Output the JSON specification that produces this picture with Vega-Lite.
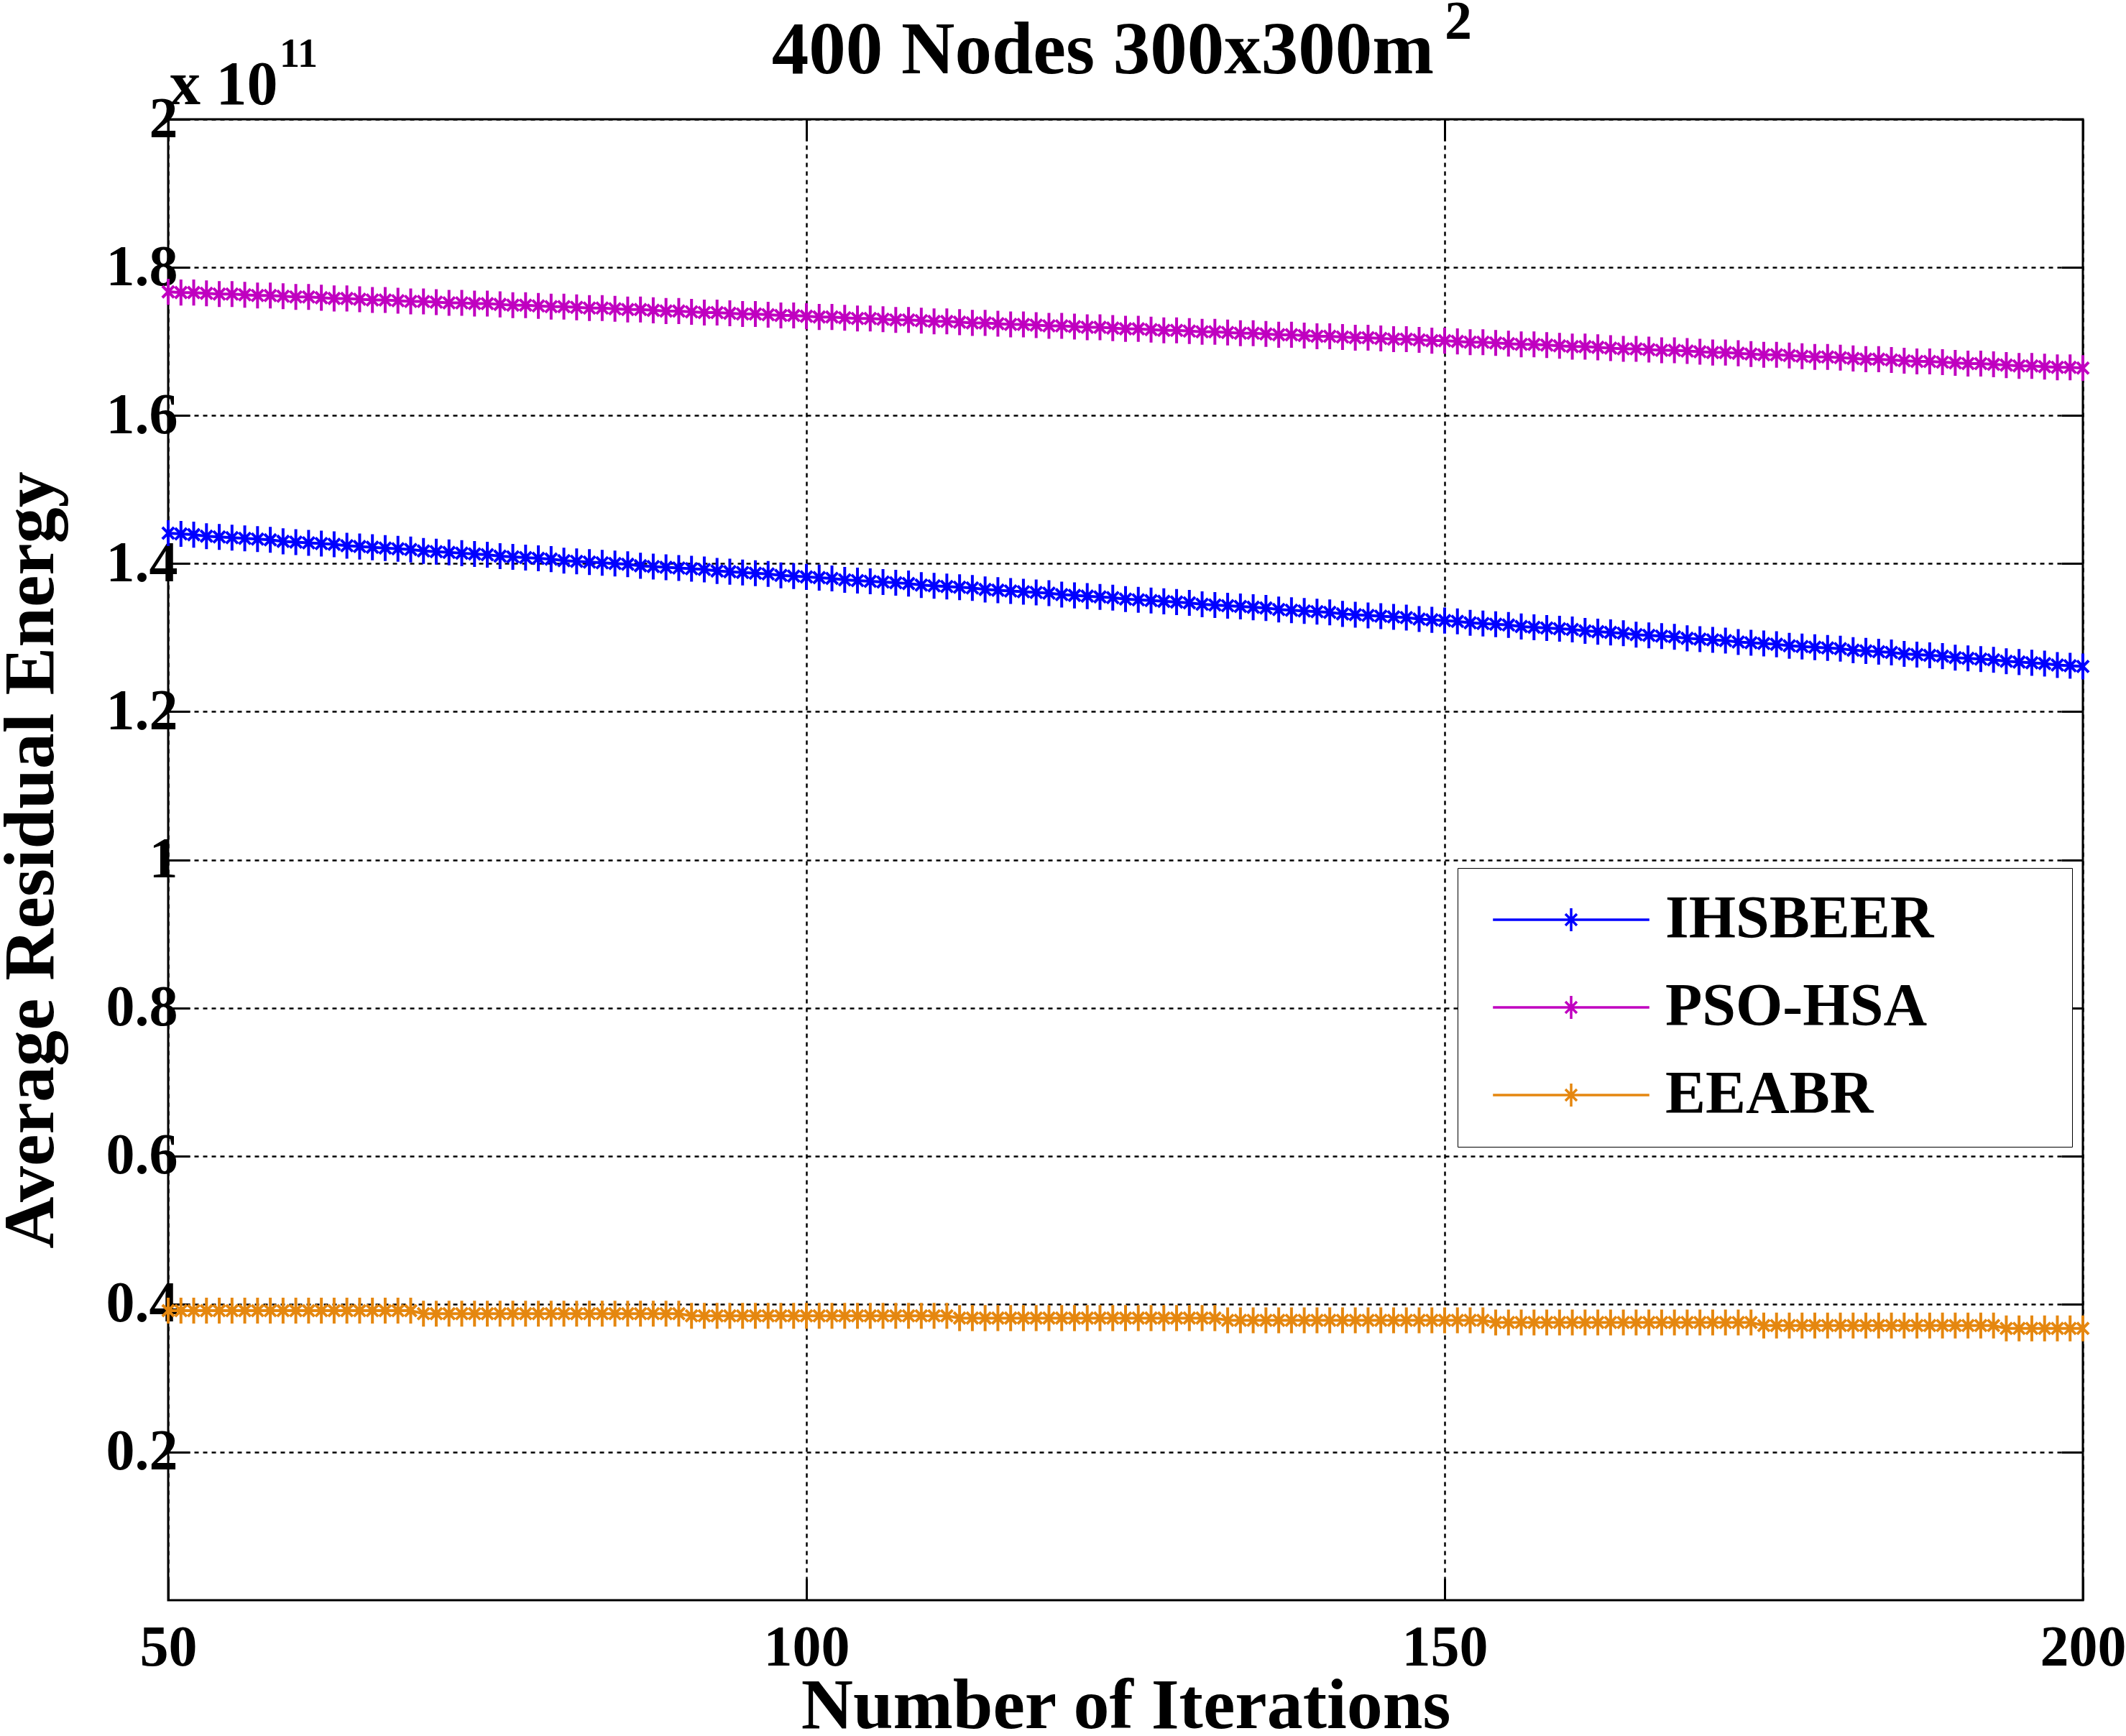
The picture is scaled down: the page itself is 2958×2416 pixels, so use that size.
{
"$schema": "https://vega.github.io/schema/vega-lite/v6.json",
"width": 2664,
"height": 2061,
"autosize": "none",
"padding": {"left": 234, "top": 166, "right": 60, "bottom": 189},
"background": "white",
"config": {
  "view": {"stroke": "black", "strokeWidth": 3},
  "font": "Liberation Serif"
},
"data": {"values": [
{"it":50,"IHSBEER":1.441,"PSO-HSA":1.767,"EEABR":0.391},
{"it":51,"IHSBEER":1.440,"PSO-HSA":1.766,"EEABR":0.391},
{"it":52,"IHSBEER":1.439,"PSO-HSA":1.766,"EEABR":0.391},
{"it":53,"IHSBEER":1.437,"PSO-HSA":1.765,"EEABR":0.391},
{"it":54,"IHSBEER":1.436,"PSO-HSA":1.764,"EEABR":0.391},
{"it":55,"IHSBEER":1.435,"PSO-HSA":1.764,"EEABR":0.391},
{"it":56,"IHSBEER":1.434,"PSO-HSA":1.763,"EEABR":0.391},
{"it":57,"IHSBEER":1.433,"PSO-HSA":1.762,"EEABR":0.391},
{"it":58,"IHSBEER":1.432,"PSO-HSA":1.762,"EEABR":0.391},
{"it":59,"IHSBEER":1.430,"PSO-HSA":1.761,"EEABR":0.391},
{"it":60,"IHSBEER":1.429,"PSO-HSA":1.760,"EEABR":0.391},
{"it":61,"IHSBEER":1.428,"PSO-HSA":1.760,"EEABR":0.391},
{"it":62,"IHSBEER":1.427,"PSO-HSA":1.759,"EEABR":0.391},
{"it":63,"IHSBEER":1.426,"PSO-HSA":1.758,"EEABR":0.391},
{"it":64,"IHSBEER":1.424,"PSO-HSA":1.758,"EEABR":0.391},
{"it":65,"IHSBEER":1.423,"PSO-HSA":1.757,"EEABR":0.391},
{"it":66,"IHSBEER":1.422,"PSO-HSA":1.756,"EEABR":0.391},
{"it":67,"IHSBEER":1.421,"PSO-HSA":1.756,"EEABR":0.391},
{"it":68,"IHSBEER":1.420,"PSO-HSA":1.755,"EEABR":0.391},
{"it":69,"IHSBEER":1.419,"PSO-HSA":1.754,"EEABR":0.391},
{"it":70,"IHSBEER":1.417,"PSO-HSA":1.754,"EEABR":0.387},
{"it":71,"IHSBEER":1.416,"PSO-HSA":1.753,"EEABR":0.387},
{"it":72,"IHSBEER":1.415,"PSO-HSA":1.752,"EEABR":0.387},
{"it":73,"IHSBEER":1.414,"PSO-HSA":1.752,"EEABR":0.387},
{"it":74,"IHSBEER":1.413,"PSO-HSA":1.751,"EEABR":0.387},
{"it":75,"IHSBEER":1.412,"PSO-HSA":1.751,"EEABR":0.387},
{"it":76,"IHSBEER":1.410,"PSO-HSA":1.750,"EEABR":0.387},
{"it":77,"IHSBEER":1.409,"PSO-HSA":1.749,"EEABR":0.387},
{"it":78,"IHSBEER":1.408,"PSO-HSA":1.749,"EEABR":0.387},
{"it":79,"IHSBEER":1.407,"PSO-HSA":1.748,"EEABR":0.387},
{"it":80,"IHSBEER":1.406,"PSO-HSA":1.747,"EEABR":0.387},
{"it":81,"IHSBEER":1.404,"PSO-HSA":1.747,"EEABR":0.387},
{"it":82,"IHSBEER":1.403,"PSO-HSA":1.746,"EEABR":0.387},
{"it":83,"IHSBEER":1.402,"PSO-HSA":1.745,"EEABR":0.387},
{"it":84,"IHSBEER":1.401,"PSO-HSA":1.745,"EEABR":0.387},
{"it":85,"IHSBEER":1.400,"PSO-HSA":1.744,"EEABR":0.387},
{"it":86,"IHSBEER":1.399,"PSO-HSA":1.743,"EEABR":0.387},
{"it":87,"IHSBEER":1.397,"PSO-HSA":1.743,"EEABR":0.387},
{"it":88,"IHSBEER":1.396,"PSO-HSA":1.742,"EEABR":0.387},
{"it":89,"IHSBEER":1.395,"PSO-HSA":1.741,"EEABR":0.387},
{"it":90,"IHSBEER":1.394,"PSO-HSA":1.741,"EEABR":0.387},
{"it":91,"IHSBEER":1.393,"PSO-HSA":1.740,"EEABR":0.384},
{"it":92,"IHSBEER":1.392,"PSO-HSA":1.739,"EEABR":0.384},
{"it":93,"IHSBEER":1.390,"PSO-HSA":1.739,"EEABR":0.384},
{"it":94,"IHSBEER":1.389,"PSO-HSA":1.738,"EEABR":0.384},
{"it":95,"IHSBEER":1.388,"PSO-HSA":1.737,"EEABR":0.384},
{"it":96,"IHSBEER":1.387,"PSO-HSA":1.737,"EEABR":0.384},
{"it":97,"IHSBEER":1.386,"PSO-HSA":1.736,"EEABR":0.384},
{"it":98,"IHSBEER":1.384,"PSO-HSA":1.735,"EEABR":0.384},
{"it":99,"IHSBEER":1.383,"PSO-HSA":1.735,"EEABR":0.384},
{"it":100,"IHSBEER":1.382,"PSO-HSA":1.734,"EEABR":0.384},
{"it":101,"IHSBEER":1.381,"PSO-HSA":1.733,"EEABR":0.384},
{"it":102,"IHSBEER":1.380,"PSO-HSA":1.733,"EEABR":0.384},
{"it":103,"IHSBEER":1.378,"PSO-HSA":1.732,"EEABR":0.384},
{"it":104,"IHSBEER":1.377,"PSO-HSA":1.731,"EEABR":0.384},
{"it":105,"IHSBEER":1.376,"PSO-HSA":1.731,"EEABR":0.384},
{"it":106,"IHSBEER":1.375,"PSO-HSA":1.730,"EEABR":0.384},
{"it":107,"IHSBEER":1.374,"PSO-HSA":1.729,"EEABR":0.384},
{"it":108,"IHSBEER":1.373,"PSO-HSA":1.729,"EEABR":0.384},
{"it":109,"IHSBEER":1.371,"PSO-HSA":1.728,"EEABR":0.384},
{"it":110,"IHSBEER":1.370,"PSO-HSA":1.727,"EEABR":0.384},
{"it":111,"IHSBEER":1.369,"PSO-HSA":1.727,"EEABR":0.384},
{"it":112,"IHSBEER":1.368,"PSO-HSA":1.726,"EEABR":0.381},
{"it":113,"IHSBEER":1.367,"PSO-HSA":1.725,"EEABR":0.381},
{"it":114,"IHSBEER":1.365,"PSO-HSA":1.725,"EEABR":0.381},
{"it":115,"IHSBEER":1.364,"PSO-HSA":1.724,"EEABR":0.381},
{"it":116,"IHSBEER":1.363,"PSO-HSA":1.723,"EEABR":0.381},
{"it":117,"IHSBEER":1.362,"PSO-HSA":1.723,"EEABR":0.381},
{"it":118,"IHSBEER":1.361,"PSO-HSA":1.722,"EEABR":0.381},
{"it":119,"IHSBEER":1.360,"PSO-HSA":1.721,"EEABR":0.381},
{"it":120,"IHSBEER":1.358,"PSO-HSA":1.721,"EEABR":0.381},
{"it":121,"IHSBEER":1.357,"PSO-HSA":1.720,"EEABR":0.381},
{"it":122,"IHSBEER":1.356,"PSO-HSA":1.719,"EEABR":0.381},
{"it":123,"IHSBEER":1.355,"PSO-HSA":1.719,"EEABR":0.381},
{"it":124,"IHSBEER":1.354,"PSO-HSA":1.718,"EEABR":0.381},
{"it":125,"IHSBEER":1.352,"PSO-HSA":1.717,"EEABR":0.381},
{"it":126,"IHSBEER":1.351,"PSO-HSA":1.717,"EEABR":0.381},
{"it":127,"IHSBEER":1.350,"PSO-HSA":1.716,"EEABR":0.381},
{"it":128,"IHSBEER":1.349,"PSO-HSA":1.715,"EEABR":0.381},
{"it":129,"IHSBEER":1.348,"PSO-HSA":1.715,"EEABR":0.381},
{"it":130,"IHSBEER":1.347,"PSO-HSA":1.714,"EEABR":0.381},
{"it":131,"IHSBEER":1.345,"PSO-HSA":1.713,"EEABR":0.381},
{"it":132,"IHSBEER":1.344,"PSO-HSA":1.713,"EEABR":0.381},
{"it":133,"IHSBEER":1.343,"PSO-HSA":1.712,"EEABR":0.378},
{"it":134,"IHSBEER":1.342,"PSO-HSA":1.711,"EEABR":0.378},
{"it":135,"IHSBEER":1.341,"PSO-HSA":1.711,"EEABR":0.378},
{"it":136,"IHSBEER":1.340,"PSO-HSA":1.710,"EEABR":0.378},
{"it":137,"IHSBEER":1.338,"PSO-HSA":1.709,"EEABR":0.378},
{"it":138,"IHSBEER":1.337,"PSO-HSA":1.709,"EEABR":0.378},
{"it":139,"IHSBEER":1.336,"PSO-HSA":1.708,"EEABR":0.378},
{"it":140,"IHSBEER":1.335,"PSO-HSA":1.707,"EEABR":0.378},
{"it":141,"IHSBEER":1.334,"PSO-HSA":1.707,"EEABR":0.378},
{"it":142,"IHSBEER":1.332,"PSO-HSA":1.706,"EEABR":0.378},
{"it":143,"IHSBEER":1.331,"PSO-HSA":1.705,"EEABR":0.378},
{"it":144,"IHSBEER":1.330,"PSO-HSA":1.705,"EEABR":0.378},
{"it":145,"IHSBEER":1.329,"PSO-HSA":1.704,"EEABR":0.378},
{"it":146,"IHSBEER":1.328,"PSO-HSA":1.703,"EEABR":0.378},
{"it":147,"IHSBEER":1.327,"PSO-HSA":1.703,"EEABR":0.378},
{"it":148,"IHSBEER":1.325,"PSO-HSA":1.702,"EEABR":0.378},
{"it":149,"IHSBEER":1.324,"PSO-HSA":1.701,"EEABR":0.378},
{"it":150,"IHSBEER":1.323,"PSO-HSA":1.701,"EEABR":0.378},
{"it":151,"IHSBEER":1.322,"PSO-HSA":1.700,"EEABR":0.378},
{"it":152,"IHSBEER":1.320,"PSO-HSA":1.699,"EEABR":0.378},
{"it":153,"IHSBEER":1.319,"PSO-HSA":1.699,"EEABR":0.378},
{"it":154,"IHSBEER":1.318,"PSO-HSA":1.698,"EEABR":0.375},
{"it":155,"IHSBEER":1.317,"PSO-HSA":1.697,"EEABR":0.375},
{"it":156,"IHSBEER":1.315,"PSO-HSA":1.696,"EEABR":0.375},
{"it":157,"IHSBEER":1.314,"PSO-HSA":1.696,"EEABR":0.375},
{"it":158,"IHSBEER":1.313,"PSO-HSA":1.695,"EEABR":0.375},
{"it":159,"IHSBEER":1.312,"PSO-HSA":1.694,"EEABR":0.375},
{"it":160,"IHSBEER":1.311,"PSO-HSA":1.693,"EEABR":0.375},
{"it":161,"IHSBEER":1.309,"PSO-HSA":1.693,"EEABR":0.375},
{"it":162,"IHSBEER":1.308,"PSO-HSA":1.692,"EEABR":0.375},
{"it":163,"IHSBEER":1.307,"PSO-HSA":1.691,"EEABR":0.375},
{"it":164,"IHSBEER":1.306,"PSO-HSA":1.690,"EEABR":0.375},
{"it":165,"IHSBEER":1.304,"PSO-HSA":1.690,"EEABR":0.375},
{"it":166,"IHSBEER":1.303,"PSO-HSA":1.689,"EEABR":0.375},
{"it":167,"IHSBEER":1.302,"PSO-HSA":1.688,"EEABR":0.375},
{"it":168,"IHSBEER":1.301,"PSO-HSA":1.688,"EEABR":0.375},
{"it":169,"IHSBEER":1.299,"PSO-HSA":1.687,"EEABR":0.375},
{"it":170,"IHSBEER":1.298,"PSO-HSA":1.686,"EEABR":0.375},
{"it":171,"IHSBEER":1.297,"PSO-HSA":1.685,"EEABR":0.375},
{"it":172,"IHSBEER":1.296,"PSO-HSA":1.685,"EEABR":0.375},
{"it":173,"IHSBEER":1.294,"PSO-HSA":1.684,"EEABR":0.375},
{"it":174,"IHSBEER":1.293,"PSO-HSA":1.683,"EEABR":0.375},
{"it":175,"IHSBEER":1.292,"PSO-HSA":1.682,"EEABR":0.371},
{"it":176,"IHSBEER":1.291,"PSO-HSA":1.682,"EEABR":0.371},
{"it":177,"IHSBEER":1.289,"PSO-HSA":1.681,"EEABR":0.371},
{"it":178,"IHSBEER":1.288,"PSO-HSA":1.680,"EEABR":0.371},
{"it":179,"IHSBEER":1.287,"PSO-HSA":1.679,"EEABR":0.371},
{"it":180,"IHSBEER":1.286,"PSO-HSA":1.679,"EEABR":0.371},
{"it":181,"IHSBEER":1.285,"PSO-HSA":1.678,"EEABR":0.371},
{"it":182,"IHSBEER":1.283,"PSO-HSA":1.677,"EEABR":0.371},
{"it":183,"IHSBEER":1.282,"PSO-HSA":1.676,"EEABR":0.371},
{"it":184,"IHSBEER":1.281,"PSO-HSA":1.676,"EEABR":0.371},
{"it":185,"IHSBEER":1.280,"PSO-HSA":1.675,"EEABR":0.371},
{"it":186,"IHSBEER":1.278,"PSO-HSA":1.674,"EEABR":0.371},
{"it":187,"IHSBEER":1.277,"PSO-HSA":1.673,"EEABR":0.371},
{"it":188,"IHSBEER":1.276,"PSO-HSA":1.673,"EEABR":0.371},
{"it":189,"IHSBEER":1.275,"PSO-HSA":1.672,"EEABR":0.371},
{"it":190,"IHSBEER":1.273,"PSO-HSA":1.671,"EEABR":0.371},
{"it":191,"IHSBEER":1.272,"PSO-HSA":1.670,"EEABR":0.371},
{"it":192,"IHSBEER":1.271,"PSO-HSA":1.670,"EEABR":0.371},
{"it":193,"IHSBEER":1.270,"PSO-HSA":1.669,"EEABR":0.371},
{"it":194,"IHSBEER":1.268,"PSO-HSA":1.668,"EEABR":0.367},
{"it":195,"IHSBEER":1.267,"PSO-HSA":1.667,"EEABR":0.367},
{"it":196,"IHSBEER":1.266,"PSO-HSA":1.667,"EEABR":0.367},
{"it":197,"IHSBEER":1.265,"PSO-HSA":1.666,"EEABR":0.367},
{"it":198,"IHSBEER":1.263,"PSO-HSA":1.665,"EEABR":0.367},
{"it":199,"IHSBEER":1.262,"PSO-HSA":1.665,"EEABR":0.367},
{"it":200,"IHSBEER":1.261,"PSO-HSA":1.664,"EEABR":0.367}
]},
"layer": [
  {
    "transform": [{"fold": ["IHSBEER", "PSO-HSA", "EEABR"], "as": ["series", "value"]}],
    "mark": {"type": "line", "strokeWidth": 4},
    "encoding": {
      "x": {"field": "it", "type": "quantitative", "scale": {"domain": [50, 200], "nice": false, "zero": false},
        "axis": {"orient": "bottom", "values": [50, 100, 150, 200], "title": "Number of Iterations",
          "titleFont": "Liberation Serif", "titleFontSize": 100, "titleFontWeight": "bold", "titleColor": "black", "titlePadding": -8,
          "labelFont": "Liberation Serif", "labelFontSize": 80, "labelFontWeight": "bold", "labelColor": "black", "labelPadding": 57,
          "labelFlush": false, "labelOverlap": false, "domain": false,
          "ticks": true, "tickSize": -30, "tickWidth": 3, "tickColor": "black",
          "grid": true, "gridColor": "black", "gridDash": [6, 6], "gridWidth": 2.5, "gridOpacity": 1}},
      "y": {"field": "value", "type": "quantitative", "scale": {"domain": [0, 2], "nice": false},
        "axis": {"orient": "left", "values": [0.2, 0.4, 0.6, 0.8, 1, 1.2, 1.4, 1.6, 1.8, 2], "format": "~g", "title": "Average Residual Energy",
          "titleFont": "Liberation Serif", "titleFontSize": 100, "titleFontWeight": "bold", "titleColor": "black", "titlePadding": 53,
          "labelFont": "Liberation Serif", "labelFontSize": 80, "labelFontWeight": "bold", "labelColor": "black", "labelPadding": 17,
          "labelFlush": false, "labelOverlap": false, "domain": false,
          "ticks": true, "tickSize": -30, "tickWidth": 3, "tickColor": "black",
          "grid": true, "gridColor": "black", "gridDash": [6, 6], "gridWidth": 2.5, "gridOpacity": 1}},
      "color": {"field": "series", "type": "nominal",
        "scale": {"domain": ["IHSBEER", "PSO-HSA", "EEABR"], "range": ["#0000FF", "#C000C0", "#E5870F"]},
        "legend": {"orient": "none", "legendX": 1794, "legendY": 1042,
          "title": "XXX", "titleOrient": "right", "titleColor": "white", "titleFontSize": 75, "titlePadding": 0,
          "strokeColor": "black", "fillColor": "white", "padding": 30,
          "symbolType": "M-3.4,0L3.4,0M0,-0.5L0,0.5M-0.25,-0.25L0.25,0.25M-0.25,0.25L0.25,-0.25",
          "symbolSize": 4096, "symbolStrokeWidth": 3.5, "symbolOffset": 86,
          "labelFont": "Liberation Serif", "labelFontSize": 84, "labelFontWeight": "bold", "labelColor": "black",
          "labelOffset": 89, "labelLimit": 0, "rowPadding": 38}}
    }
  },
  {
    "transform": [{"fold": ["IHSBEER", "PSO-HSA", "EEABR"], "as": ["series", "value"]}],
    "mark": {"type": "point", "shape": "M0,-1L0,1M-0.45,-0.45L0.45,0.45M-0.45,0.45L0.45,-0.45", "filled": false, "size": 1300, "strokeWidth": 4, "opacity": 1},
    "encoding": {
      "x": {"field": "it", "type": "quantitative",
        "axis": {"orient": "top", "values": [50, 100, 150, 200], "labels": false, "domain": false, "grid": false,
          "title": "400 Nodes 300x300m", "titleFont": "Liberation Serif", "titleFontSize": 103, "titleFontWeight": "bold", "titleColor": "black",
          "titleBaseline": "alphabetic", "titlePadding": 63, "titleX": 1300, "titleAlign": "center",
          "ticks": true, "tickSize": -30, "tickWidth": 3, "tickColor": "black"}},
      "y": {"field": "value", "type": "quantitative",
        "axis": {"orient": "right", "values": [0.2, 0.4, 0.6, 0.8, 1, 1.2, 1.4, 1.6, 1.8, 2], "labels": false, "title": null, "domain": false, "grid": false,
          "ticks": true, "tickSize": -30, "tickWidth": 3, "tickColor": "black"}},
      "color": {"field": "series", "type": "nominal"}
    }
  },
  {
    "data": {"values": [{"t": "2"}]},
    "mark": {"type": "text", "align": "left", "baseline": "alphabetic", "dx": 0, "dy": -112, "font": "Liberation Serif", "fontSize": 76, "fontWeight": "bold", "color": "black"},
    "encoding": {
      "x": {"datum": 150, "type": "quantitative", "axis": null},
      "y": {"datum": 2, "type": "quantitative", "axis": null},
      "text": {"field": "t"}
    }
  },
  {
    "data": {"values": [{"t": "x 10"}]},
    "mark": {"type": "text", "align": "left", "baseline": "alphabetic", "dx": 2, "dy": -21, "font": "Liberation Serif", "fontSize": 86, "fontWeight": "bold", "color": "black"},
    "encoding": {
      "x": {"datum": 50, "type": "quantitative", "axis": null},
      "y": {"datum": 2, "type": "quantitative", "axis": null},
      "text": {"field": "t"}
    }
  },
  {
    "data": {"values": [{"t": "11"}]},
    "mark": {"type": "text", "align": "left", "baseline": "alphabetic", "dx": 155, "dy": -73, "font": "Liberation Serif", "fontSize": 56, "fontWeight": "bold", "color": "black"},
    "encoding": {
      "x": {"datum": 50, "type": "quantitative", "axis": null},
      "y": {"datum": 2, "type": "quantitative", "axis": null},
      "text": {"field": "t"}
    }
  }
],
"resolve": {"axis": {"x": "independent", "y": "independent"}}
}
